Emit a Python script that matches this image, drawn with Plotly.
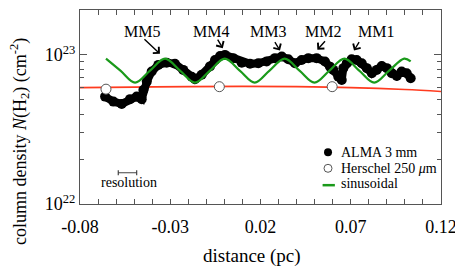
import plotly.graph_objects as go

# ---------------- data ----------------
# ALMA 3 mm profile: distance (pc), N(H2) in units of 1e22 cm^-2
alma_x = [-0.0661, -0.0615, -0.0569, -0.0523, -0.0486, -0.0458, -0.0449, -0.0430, -0.0403, -0.0366,
          -0.0320, -0.0274, -0.0228, -0.0181, -0.0163, -0.0126, -0.0080, -0.0052, -0.0024, 0.0003,
          0.0049, 0.0096, 0.0142, 0.0188, 0.0234, 0.0280, 0.0318, 0.0354, 0.0391, 0.0428,
          0.0465, 0.0511, 0.0557, 0.0585, 0.0603, 0.0631, 0.0650, 0.0659, 0.0678, 0.0705,
          0.0733, 0.0761, 0.0789, 0.0817, 0.0844, 0.0872, 0.0900, 0.0927, 0.0955, 0.0982,
          0.1010, 0.1032]
alma_n = [5.25, 4.86, 4.69, 5.05, 5.25, 5.05, 5.82, 6.62, 7.73, 8.57,
          8.87, 8.71, 7.93, 7.14, 6.87, 7.35, 8.37, 9.25, 9.84, 10.0,
          9.51, 8.87, 8.71, 8.79, 9.02, 9.51, 9.75, 9.35, 8.79, 9.25,
          9.51, 9.51, 9.02, 8.34, 7.93, 7.14, 6.79, 8.15, 8.79, 9.35,
          9.25, 8.79, 8.15, 7.53, 7.93, 8.43, 8.15, 7.53, 7.23, 7.73,
          7.53, 6.98]

# Herschel 250 um points
herschel_x = [-0.0656, -0.0028, 0.0597]
herschel_n = [5.89, 6.12, 6.12]

# smooth Herschel profile (red line)
fit_x = [-0.08, -0.05, -0.02, 0.01, 0.04, 0.07, 0.10, 0.12]
fit_n = [6.04, 6.08, 6.12, 6.14, 6.12, 6.04, 5.86, 5.68]

# sinusoidal model (extrema and mid points)
sin_x = [-0.0656, -0.0576, -0.0495, -0.0412, -0.0329, -0.0246, -0.0163, -0.0080, 0.0002, 0.0085,
         0.0168, 0.0250, 0.0334, 0.0416, 0.0499, 0.0582, 0.0665, 0.0747, 0.0830, 0.0913,
         0.0996, 0.1032]
sin_n = [9.44, 7.85, 6.52, 7.85, 9.44, 7.85, 6.52, 7.85, 9.44, 7.85,
         6.52, 7.85, 9.44, 7.85, 6.52, 7.85, 9.44, 7.85, 6.52, 7.85,
         9.44, 9.05]

# resolution bar
res_x = [-0.0537]
res_half = [0.0051]
res_n = [1.62]

x_ticks = [-0.08, -0.03, 0.02, 0.07, 0.12]
x_labels = ["-0.08", "-0.03", "0.02", "0.07", "0.12"]
y_ticks = [1e22, 1e23]
y_labels = ["10<sup>22</sup>", "10<sup>23</sup>"]
y_minor = [k * 1e22 for k in range(2, 10)] + [2e23]

cores = ["MM5", "MM4", "MM3", "MM2", "MM1"]
core_label_x = [-0.0454, -0.0076, 0.0244, 0.0549, 0.0841]
core_head_x = [-0.0357, -0.0009, 0.0308, 0.0515, 0.0718]
core_head_logn = [23.007, 23.045, 23.029, 23.034, 23.029]
core_tail_dx = [-17, -6, -6, 9, 6]
core_tail_dy = [-16, -10, -10, -10, -10]

legend_names = ["ALMA 3 mm", "Herschel 250 <i>μ</i>m", "sinusoidal"]

SC = 1e22
FONT = "Liberation Serif"
AX = "#555555"
GREEN = "#1a9a1a"

fig = go.Figure()

fig.add_trace(go.Scatter(x=fit_x, y=[v * SC for v in fit_n], mode="lines",
                         line=dict(color="#ff3b1f", width=1.7, shape="spline"), hoverinfo="skip"))
fig.add_trace(go.Scatter(x=alma_x, y=[v * SC for v in alma_n], mode="lines+markers",
                         line=dict(color="black", width=8), marker=dict(color="black", size=10)))
fig.add_trace(go.Scatter(x=sin_x, y=[v * SC for v in sin_n], mode="lines",
                         line=dict(color=GREEN, width=2.2, shape="spline")))
fig.add_trace(go.Scatter(x=herschel_x, y=[v * SC for v in herschel_n], mode="markers",
                         marker=dict(color="white", size=10, line=dict(color="#555555", width=1))))
fig.add_trace(go.Scatter(x=res_x, y=[v * SC for v in res_n], mode="markers", marker=dict(size=0.1, color="#444"),
                         error_x=dict(type="data", array=res_half, color="#444444", thickness=1.2, width=2.5),
                         hoverinfo="skip"))

# manual legend on an overlay axis (0..1 in both directions)
fig.add_trace(go.Scatter(x=[0.687], y=[0.2665], xaxis="x2", yaxis="y2", mode="markers",
                         marker=dict(color="black", size=8)))
fig.add_trace(go.Scatter(x=[0.687], y=[0.184], xaxis="x2", yaxis="y2", mode="markers",
                         marker=dict(color="white", size=8, line=dict(color="#555555", width=1))))
fig.add_trace(go.Scatter(x=[0.672, 0.706], y=[0.097, 0.097], xaxis="x2", yaxis="y2", mode="lines",
                         line=dict(color=GREEN, width=2.5)))

annotations = []
for name, lx, hx, hy, dx, dy in zip(cores, core_label_x, core_head_x, core_head_logn, core_tail_dx, core_tail_dy):
    annotations.append(dict(x=lx, y=23.156, xref="x", yref="y", text=name, showarrow=False,
                            font=dict(family=FONT, size=16, color="black")))
    annotations.append(dict(x=hx, y=hy, xref="x", yref="y", text="", showarrow=True, ax=dx, ay=dy,
                            arrowhead=4, arrowsize=1.2, arrowwidth=1.4, arrowcolor="black", standoff=0))

for name, ly in zip(legend_names, [0.2665, 0.184, 0.105]):
    annotations.append(dict(x=0.718, y=ly, xref="paper", yref="paper", text=name, showarrow=False,
                            xanchor="left", yanchor="middle", font=dict(family=FONT, size=14, color="black")))

annotations.append(dict(x=-0.0529, y=22.143, xref="x", yref="y", text="resolution", showarrow=False,
                        font=dict(family=FONT, size=14, color="black")))
annotations.append(dict(x=-0.166, y=0.32, xref="paper", yref="paper", textangle=-90,
                        text="column density <i>N</i>(H<sub>2</sub>) (cm<sup>-2</sup>)", showarrow=False,
                        xanchor="center", yanchor="middle", font=dict(family=FONT, size=18, color="black")))
annotations.append(dict(x=0.476, y=-0.266, xref="paper", yref="paper", text="distance (pc)", showarrow=False,
                        xanchor="center", yanchor="middle", font=dict(family=FONT, size=19, color="black")))

fig.update_layout(
    template="none",
    width=455, height=258,
    margin=dict(l=72, r=22, t=2, b=62),
    paper_bgcolor="white", plot_bgcolor="white",
    font=dict(family=FONT, size=18, color="black"),
    showlegend=False,
    annotations=annotations,
    xaxis2=dict(overlaying="x", range=[0, 1], visible=False, fixedrange=True),
    yaxis2=dict(overlaying="y", range=[0, 1], visible=False, fixedrange=True),
    xaxis=dict(range=[-0.08, 0.12], tickmode="array", tickvals=x_ticks, ticktext=x_labels,
               ticks="inside", ticklen=5, tickcolor=AX, showline=True, linecolor=AX, linewidth=1,
               mirror="allticks", showgrid=False, zeroline=False, automargin=False,
               tickfont=dict(family=FONT, size=18), ticklabelstandoff=6,
               minor=dict(dtick=0.01, ticks="inside", ticklen=5, tickcolor=AX, showgrid=False)),
    yaxis=dict(type="log", range=[22, 23.301], tickmode="array", tickvals=y_ticks, ticktext=y_labels,
               ticks="inside", ticklen=7, tickcolor=AX, showline=True, linecolor=AX, linewidth=1,
               mirror="allticks", showgrid=False, zeroline=False, automargin=False,
               tickfont=dict(family=FONT, size=18),
               minor=dict(tickmode="array", tickvals=y_minor, ticks="inside", ticklen=4, tickcolor=AX,
                          showgrid=False)),
)

fig.write_html("out.html")
